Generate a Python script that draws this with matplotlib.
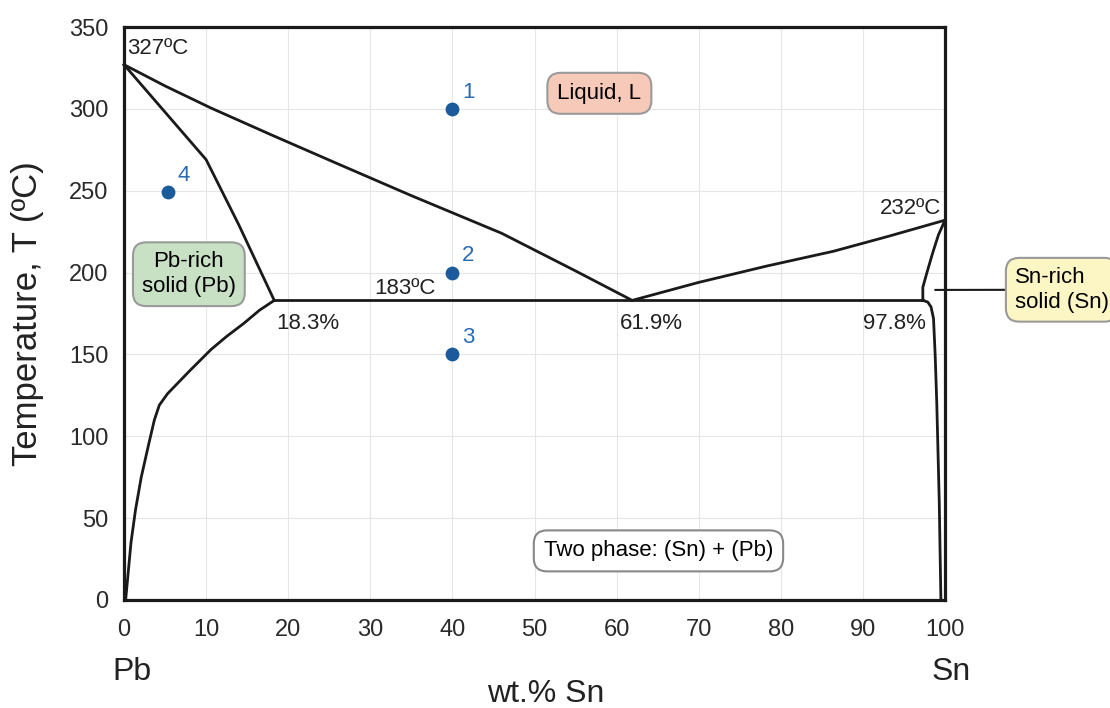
import matplotlib
matplotlib.use("Agg")
import matplotlib.pyplot as plt
import numpy as np

plt.rcParams['font.family'] = ['Liberation Sans', 'DejaVu Sans']

# phase boundaries (wt.% Sn, T in degC)
liq_left_x = [0, 5, 10.6, 18, 25.5, 35, 46, 55, 61.9]
liq_left_t = [327, 314, 300.5, 284, 267.6, 247, 224, 201, 183]
sol_left_x = [0, 5, 10, 14, 18.3]
sol_left_t = [327, 298, 269, 229, 183]
solv_left_x = [18.3, 16.5, 14.6, 12.5, 10.6, 8, 5.3, 4.3, 3.7, 3.0, 2.1, 1.4, 0.85, 0.2]
solv_left_t = [183, 177, 169, 161, 153, 140, 126, 119, 110, 95, 75, 55, 35, 0]
eut_x = [18.3, 97.3]
eut_t = [183, 183]
liq_right_x = [61.9, 70, 78.3, 86.4, 93, 100]
liq_right_t = [183, 194, 204, 213, 222, 232]
sol_right_x = [100, 99.2, 98.5, 97.8, 97.3, 97.3]
sol_right_t = [232, 223, 212, 200, 191, 183]
solv_right_x = [97.3, 97.9, 98.3, 98.6, 98.8, 99.0, 99.3, 99.5]
solv_right_t = [183, 182, 179, 172, 150, 120, 60, 0]

# alloy points
pt_x = [40, 40, 40, 5.3]
pt_t = [300, 200, 150, 249]
pt_lab = ["1", "2", "3", "4"]

fig = plt.figure(figsize=(11.1, 7.08), dpi=100)
ax = fig.add_axes([124/1110, 108/708, 821/1110, 573/708])

ax.set_xlim(0, 100)
ax.set_ylim(0, 350)
ax.set_xticks(np.arange(0, 101, 10))
ax.set_yticks(np.arange(0, 351, 50))
ax.grid(True, color='#e6e6e6', lw=0.8)
ax.set_axisbelow(True)
ax.tick_params(length=0, labelsize=17, colors='#2a2a2a')
ax.tick_params(axis='x', pad=14)
ax.tick_params(axis='y', pad=11)
for s in ax.spines.values():
    s.set_linewidth(2.3)
    s.set_color('#1a1a1a')

lc = '#1a1a1a'
for xs, ts in [(liq_left_x, liq_left_t), (sol_left_x, sol_left_t),
               (solv_left_x, solv_left_t), (eut_x, eut_t),
               (liq_right_x, liq_right_t), (sol_right_x, sol_right_t),
               (solv_right_x, solv_right_t)]:
    ax.plot(xs, ts, color=lc, lw=2, solid_joinstyle='round', clip_on=False)

ax.scatter(pt_x, pt_t, s=80, color='#1b5b9b', zorder=5)
for x, t, l in zip(pt_x, pt_t, pt_lab):
    ax.annotate(l, (x, t), xytext=(7, 8), textcoords='offset points',
                color='#2b6cb0', fontsize=16)

# temperature / composition labels
fs = 16
ax.text(0.4, 337, "327ºC", fontsize=fs, va='center', ha='left', color='#222222')
ax.text(99.5, 239, "232ºC", fontsize=fs, va='center', ha='right', color='#222222')
ax.text(37.9, 190, "183ºC", fontsize=fs, va='center', ha='right', color='#222222')
ax.text(18.6, 169, "18.3%", fontsize=fs, va='center', ha='left', color='#222222')
ax.text(60.4, 169, "61.9%", fontsize=fs, va='center', ha='left', color='#222222')
ax.text(90.0, 169, "97.8%", fontsize=fs, va='center', ha='left', color='#222222')

# region labels
ax.text(57.9, 309.5, "Liquid, L", fontsize=fs, ha='center', va='center',
        bbox=dict(boxstyle='round,pad=0.45,rounding_size=0.6', fc='#f7c9b8', ec='#9a9a9a', lw=1.5))
ax.text(7.9, 199, "Pb-rich\nsolid (Pb)", fontsize=fs, ha='center', va='center',
        linespacing=1.25,
        bbox=dict(boxstyle='round,pad=0.4,rounding_size=0.6', fc='#c8e0c4', ec='#9a9a9a', lw=1.5))
ax.text(65.1, 30, "Two phase: (Sn) + (Pb)", fontsize=fs, ha='center', va='center',
        bbox=dict(boxstyle='round,pad=0.45,rounding_size=0.6', fc='white', ec='#888888', lw=1.5))
ax.annotate("Sn-rich\nsolid (Sn)", xy=(98.8, 189.4), xytext=(108.5, 189.5),
            fontsize=fs, ha='left', va='center', linespacing=1.25,
            annotation_clip=False,
            bbox=dict(boxstyle='round,pad=0.4,rounding_size=0.6', fc='#fbf6c4', ec='#9a9a9a', lw=1.5),
            arrowprops=dict(arrowstyle='-', color='#1a1a1a', lw=1.5, shrinkA=0, shrinkB=0))

# axis labels placed like the original
fig.text(132/1110, 1 - 672/708, "Pb", fontsize=23, ha='center', va='center', color='#222222')
fig.text(951/1110, 1 - 672/708, "Sn", fontsize=23, ha='center', va='center', color='#222222')
fig.text(546/1110, 1 - 694/708, "wt.% Sn", fontsize=23, ha='center', va='center', color='#222222')
fig.text(28/1110, 1 - 314/708, "Temperature, T (ºC)", fontsize=25, ha='center',
         va='center', rotation=90, color='#222222')

fig.savefig("out.png", dpi=100)
